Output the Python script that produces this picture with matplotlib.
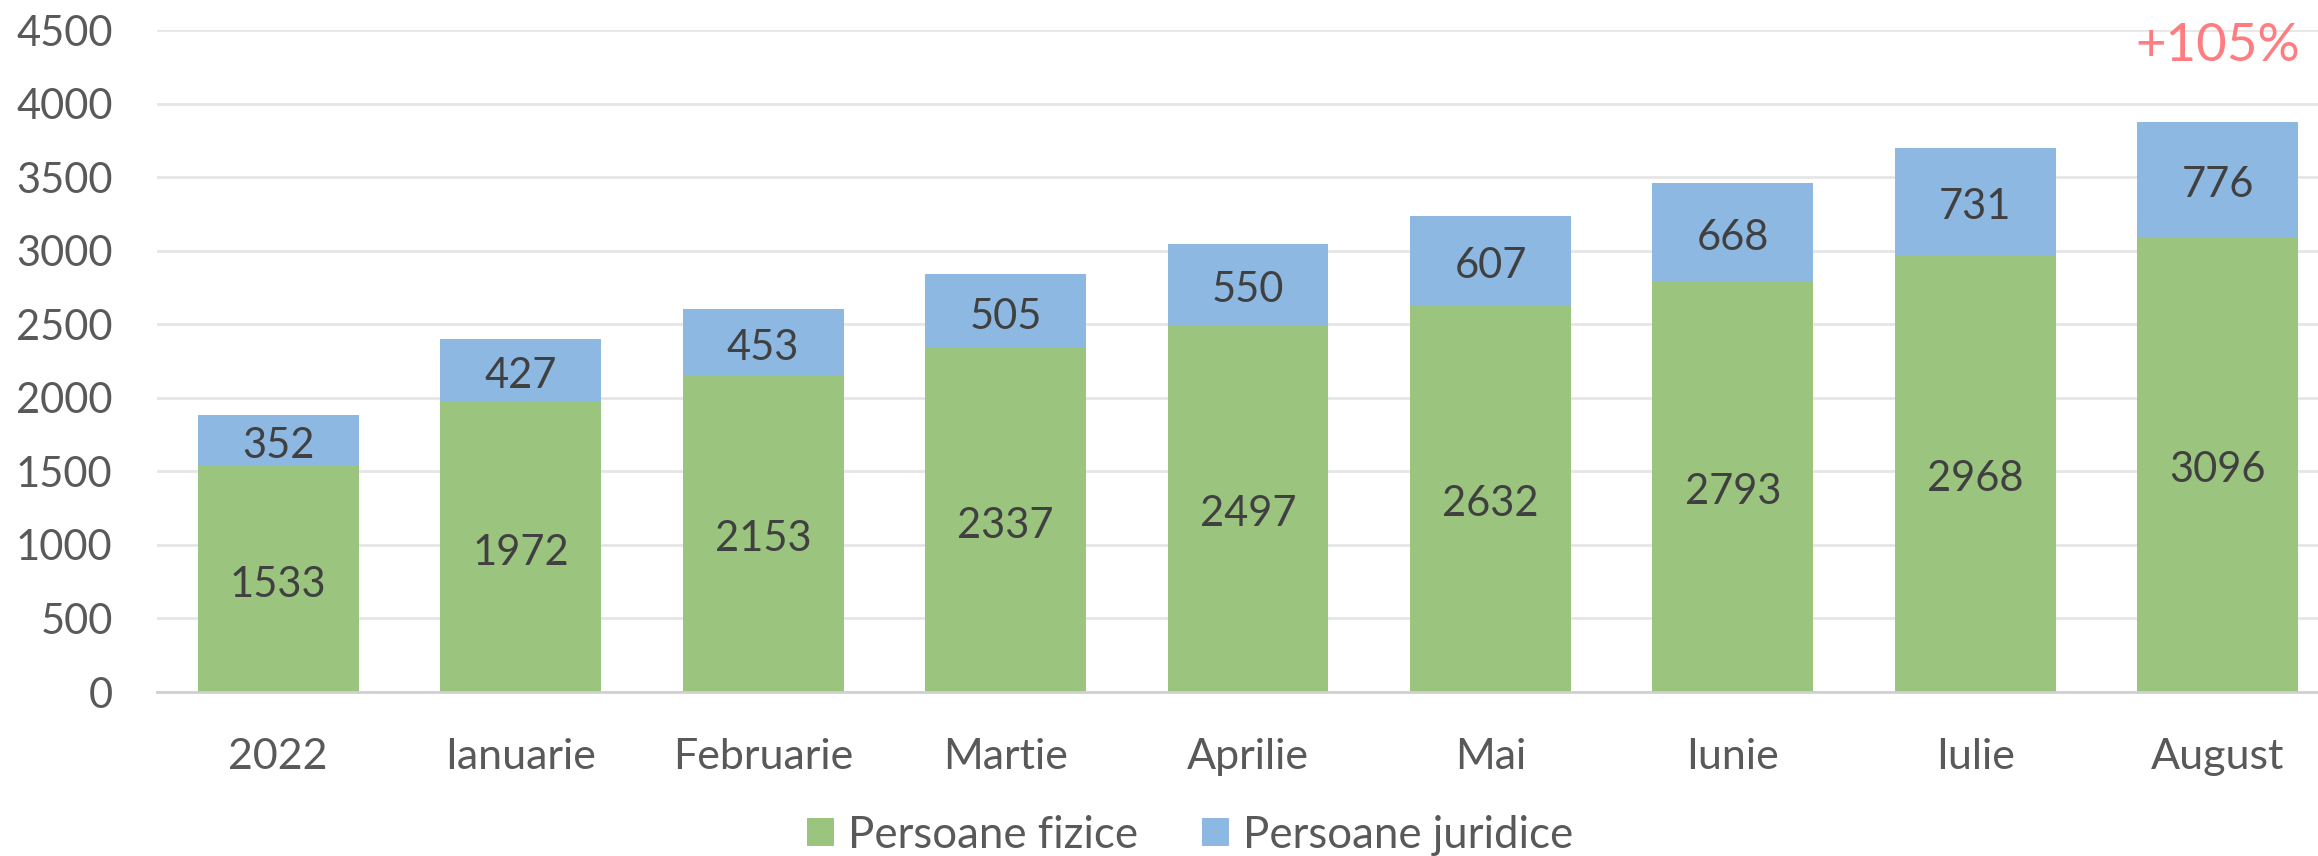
import matplotlib
matplotlib.use("Agg")
import matplotlib.pyplot as plt
import numpy as np

categories = ["2022", "Ianuarie", "Februarie", "Martie", "Aprilie", "Mai", "Iunie", "Iulie", "August"]
fizice = [1533, 1972, 2153, 2337, 2497, 2632, 2793, 2968, 3096]
juridice = [352, 427, 453, 505, 550, 607, 668, 731, 776]
yticks = [0, 500, 1000, 1500, 2000, 2500, 3000, 3500, 4000, 4500]
growth_label = "+105%"

plt.rcParams['font.family'] = ['Lato', 'DejaVu Sans']

W, H = 2318, 856
fig = plt.figure(figsize=(W / 100, H / 100), dpi=100)
left, right, bottom, top = 157, 2339, 692, 30
ax = fig.add_axes([left / W, (H - bottom) / H, (right - left) / W, (bottom - top) / H])

green = "#9BC47F"
blue = "#8DB8E2"
x = np.arange(len(categories))
bw = 0.664
b1 = ax.bar(x, fizice, bw, color=green, label="Persoane fizice", zorder=2)
b2 = ax.bar(x, juridice, bw, bottom=fizice, color=blue, label="Persoane juridice", zorder=2)

for i in range(len(categories)):
    ax.annotate(str(fizice[i]), (x[i], fizice[i] / 2), xytext=(0, -4),
                textcoords='offset points', ha='center', va='center',
                fontsize=30, color='#404040', zorder=3)
    ax.annotate(str(juridice[i]), (x[i], fizice[i] + juridice[i] / 2), xytext=(0, -4),
                textcoords='offset points', ha='center', va='center',
                fontsize=30, color='#404040', zorder=3)

ax.text(x[-1], 4385, growth_label, ha='center', va='center', fontsize=38,
        color='#FF7C80', clip_on=False)

ax.set_xlim(-0.5, len(categories) - 0.5)
ax.set_ylim(0, 4500)
ax.set_yticks(yticks)
ax.set_xticks(x)
ax.set_xticklabels(categories)
ax.tick_params(axis='both', length=0, labelsize=30, labelcolor='#595959')
ax.tick_params(axis='x', labelsize=31, pad=33)
ax.tick_params(axis='y', pad=32)
ax.yaxis.grid(True, color='#E6E6E6', linewidth=2, zorder=0)
ax.set_axisbelow(True)
for s in ['top', 'right', 'left']:
    ax.spines[s].set_visible(False)
ax.spines['bottom'].set_color('#D0D0D0')
ax.spines['bottom'].set_linewidth(2)

fig.legend(handles=[b1, b2], loc='center', bbox_to_anchor=(1190 / W, 1 - 835 / H),
           ncol=2, frameon=False, fontsize=31.5, labelcolor='#595959',
           handlelength=0.62, handleheight=0.62, handletextpad=0.32, columnspacing=1.45,
           borderpad=0.1)

fig.savefig("out.png", dpi=100)
